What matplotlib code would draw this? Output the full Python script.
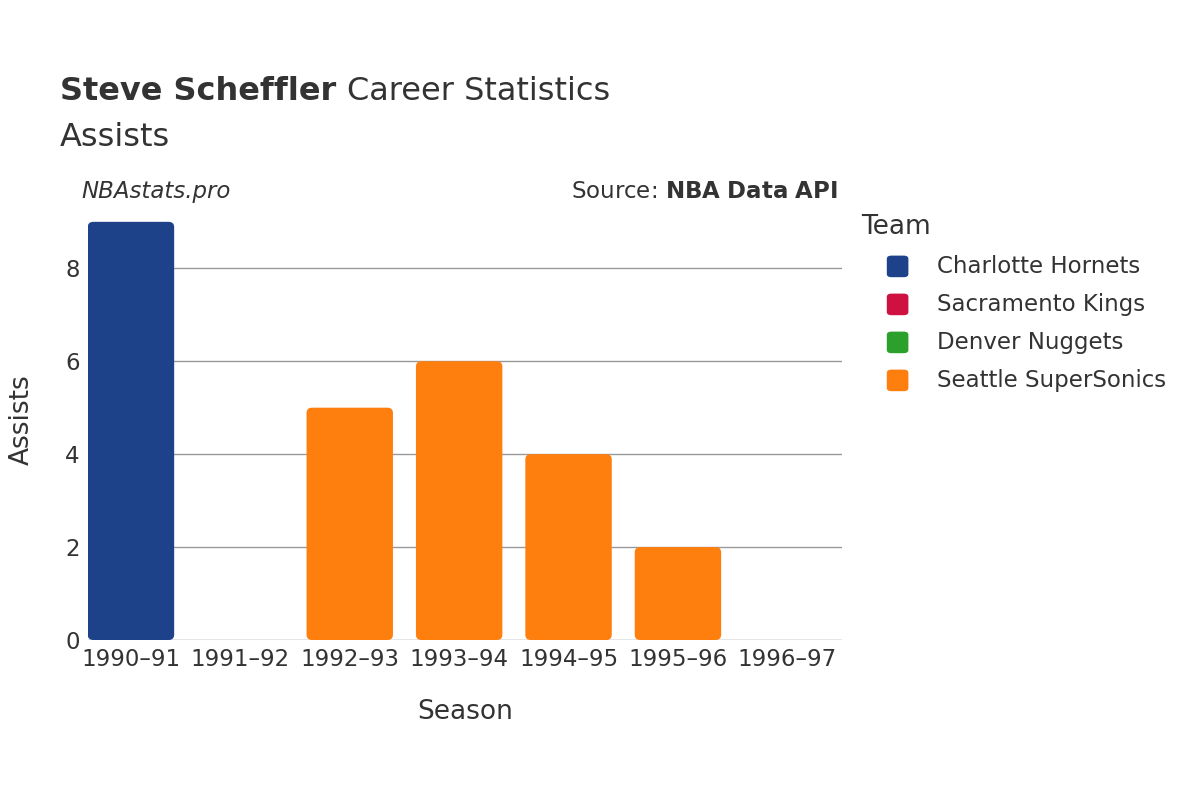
import matplotlib.pyplot as plt
from matplotlib.patches import FancyBboxPatch

seasons = ["1990–91", "1991–92", "1992–93", "1993–94", "1994–95", "1995–96", "1996–97"]
assists = [9, 0, 5, 6, 4, 2, 0]
teams = ["Charlotte Hornets", "Sacramento Kings", "Seattle SuperSonics", "Seattle SuperSonics",
         "Seattle SuperSonics", "Seattle SuperSonics", "Denver Nuggets"]
legend_teams = ["Charlotte Hornets", "Sacramento Kings", "Denver Nuggets", "Seattle SuperSonics"]
team_colors = {"Charlotte Hornets": "#1d428a", "Sacramento Kings": "#ce1141",
               "Denver Nuggets": "#2ca02c", "Seattle SuperSonics": "#ff7f0e"}

fig = plt.figure(figsize=(12, 8), dpi=100)
ax = fig.add_axes([0.0733, 0.2, 0.6284, 0.55])
txt = "#333333"

for i, (v, t) in enumerate(zip(assists, teams)):
    if v <= 0:
        continue
    ax.add_patch(FancyBboxPatch((i - 0.395, 0), 0.79, v,
                                boxstyle="round,pad=0,rounding_size=0.05",
                                mutation_aspect=2.3, fc=team_colors[t], ec="none", zorder=3))

ax.set_xlim(-0.393, 6.5)
ax.set_ylim(0, 9.47)
ax.set_yticks([0, 2, 4, 6, 8])
ax.set_xticks(range(len(seasons)))
ax.set_xticklabels(seasons)
ax.grid(axis="y", color="#999999", lw=1, zorder=0)
ax.axhline(0, color="#e5e5e5", lw=2, zorder=2)
for s in ax.spines.values():
    s.set_visible(False)
ax.tick_params(length=0, labelsize=16.5, colors=txt, pad=6)
ax.set_xlabel("Season", fontsize=19, color=txt, labelpad=20)
ax.set_ylabel("Assists", fontsize=19, color=txt, labelpad=22)

t1 = fig.text(0.05, 0.875, "Steve Scheffler", fontsize=23, weight="bold", color=txt)
fig.canvas.draw()
bb = t1.get_window_extent().transformed(fig.transFigure.inverted())
fig.text(bb.x1 + 0.009, 0.875, "Career Statistics", fontsize=23, color=txt)
fig.text(0.05, 0.818, "Assists", fontsize=23, color=txt)
fig.text(0.068, 0.752, "NBAstats.pro", fontsize=16.5, style="italic", color=txt)
fig.text(0.698, 0.752, "Source: $\\bf{NBA\\ Data\\ API}$", fontsize=16.5, color=txt, ha="right")

fig.text(0.718, 0.708, "Team", fontsize=19, color=txt)
for k, t in enumerate(legend_teams):
    y = 0.667 - k * 0.0475
    fig.patches.append(FancyBboxPatch((0.739, y - 0.0135), 0.018, 0.027,
                                      boxstyle="round,pad=0,rounding_size=0.004",
                                      transform=fig.transFigure, fc=team_colors[t], ec="none"))
    fig.text(0.781, y, t, fontsize=16.5, color=txt, va="center")

fig.savefig("out.png", dpi=100)
